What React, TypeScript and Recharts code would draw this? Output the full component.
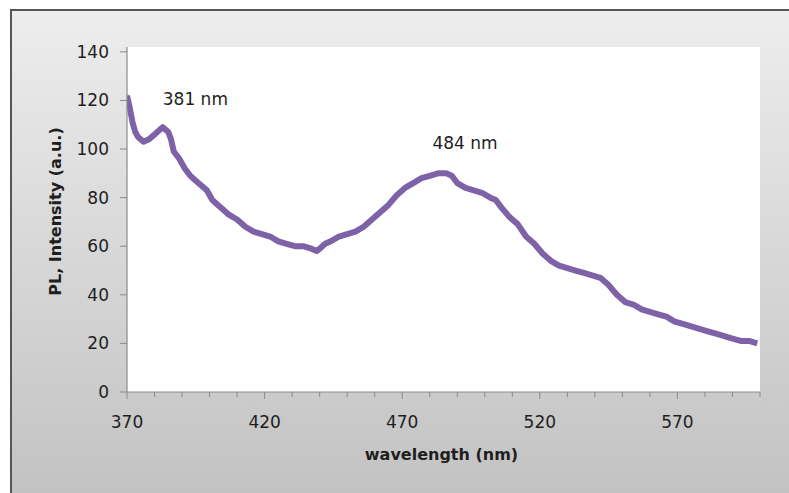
import React from 'react';
import { LineChart, Line, XAxis, YAxis, CartesianGrid, ReferenceDot, Label } from 'recharts';

const wavelengths = [
  370, 371, 372, 373, 374, 376, 378, 380, 382, 383, 385, 386, 387, 389, 391, 393, 395, 397, 399,
  401, 403, 405, 407, 410, 413, 416, 419, 422, 425, 428, 431, 434, 437, 439, 440, 442, 444, 447,
  450, 453, 456, 459, 462, 465, 468, 471, 474, 477, 480, 483, 486, 488, 490, 493, 496, 499, 502,
  504, 506, 509, 512, 515, 518, 521, 524, 527, 530, 533, 536, 539, 542, 545, 548, 551, 554, 557,
  560, 563, 566, 569, 572, 575, 578, 581, 584, 587, 590, 593, 596, 599,
];
const intensity = [
  122, 117, 111, 107, 105, 103, 104, 106, 108, 109, 107, 104, 99, 96, 92, 89, 87, 85, 83,
  79, 77, 75, 73, 71, 68, 66, 65, 64, 62, 61, 60, 60, 59, 58, 59, 61, 62, 64,
  65, 66, 68, 71, 74, 77, 81, 84, 86, 88, 89, 90, 90, 89, 86, 84, 83, 82, 80,
  79, 76, 72, 69, 64, 61, 57, 54, 52, 51, 50, 49, 48, 47, 44, 40, 37, 36, 34,
  33, 32, 31, 29, 28, 27, 26, 25, 24, 23, 22, 21, 21, 20,
];
const xTicks = [370, 380, 390, 400, 410, 420, 430, 440, 450, 460, 470, 480, 490, 500, 510, 520, 530, 540, 550, 560, 570, 580, 590, 600];
const xTickLabels = [370, 420, 470, 520, 570];
const yTicks = [0, 20, 40, 60, 80, 100, 120, 140];
const peakLabels = ['381 nm', '484 nm'];
const peakAnchorX = [383, 481];
const peakAnchorY = [120.4, 102.4];

const data = wavelengths.map((w, i) => ({ w, v: intensity[i] }));

const FONT = 'DejaVu Sans, Verdana, sans-serif';
const AXIS_COLOR = '#8a8a8a';
const TEXT_COLOR = '#1e1e1e';
const TICK_SIZE = 6;
const TICK_MARGIN = 18;

const XTick = (props: any) => {
  const { x, y, payload } = props;
  const isMajor = xTickLabels.includes(payload.value);
  const axisY = y - TICK_SIZE - TICK_MARGIN;
  return (
    <g>
      <line x1={x} x2={x} y1={axisY} y2={axisY + (isMajor ? 7 : 5)} stroke={AXIS_COLOR} strokeWidth={1} />
      {isMajor && (
        <text x={x} y={y} dy="0.71em" textAnchor="middle" fill={TEXT_COLOR} fontSize={17} fontFamily={FONT}>
          {payload.value}
        </text>
      )}
    </g>
  );
};

const peakLabel = (text: string) => (props: any) => {
  const vb = props.viewBox || {};
  const x = vb.x ?? props.x;
  const y = vb.y ?? props.y;
  return (
    <text x={x} y={y} textAnchor="start" dominantBaseline="central" fill={TEXT_COLOR} fontSize={17} fontFamily={FONT}>
      {text}
    </text>
  );
};

const YTitle = (props: any) => {
  const vb = props.viewBox;
  const cx = vb.x + 55;
  const cy = vb.y + vb.height / 2 - 8;
  return (
    <text
      x={cx}
      y={cy}
      transform={`rotate(-90 ${cx} ${cy})`}
      textAnchor="middle"
      dominantBaseline="central"
      fontWeight="bold"
      fontSize={16}
      fontFamily={FONT}
      fill={TEXT_COLOR}
    >
      PL, Intensity (a.u.)
    </text>
  );
};

const XTitle = (props: any) => {
  const vb = props.viewBox;
  const cx = vb.x + vb.width / 2 - 2;
  const by = vb.y + 68;
  return (
    <text x={cx} y={by} textAnchor="middle" fontWeight="bold" fontSize={16} fontFamily={FONT} fill={TEXT_COLOR}>
      wavelength (nm)
    </text>
  );
};

export default function App() {
  return (
    <div style={{ position: 'absolute', left: 0, top: 0, width: 789, height: 493, overflow: 'hidden', background: '#ffffff' }}>
      <div
        style={{
          position: 'absolute',
          left: 10,
          top: 9,
          width: 800,
          height: 500,
          borderTop: '2px solid #555',
          borderLeft: '2px solid #555',
          background: 'linear-gradient(#ededed, #c1c1c1)',
          boxSizing: 'border-box',
        }}
      />
      <div style={{ position: 'absolute', left: 0, top: 0 }}>
        <LineChart width={789} height={493} data={data} margin={{ top: 47, right: 29, left: 0, bottom: 30 }}>
          <CartesianGrid horizontal={false} vertical={false} fill="#ffffff" stroke="none" />
          <XAxis
            dataKey="w"
            type="number"
            domain={[370, 600]}
            ticks={xTicks}
            interval={0}
            height={71}
            tickSize={TICK_SIZE}
            tickMargin={TICK_MARGIN}
            tickLine={false}
            axisLine={{ stroke: AXIS_COLOR, strokeWidth: 1.2 }}
            tick={<XTick />}
            allowDataOverflow
          >
            <Label content={XTitle} />
          </XAxis>
          <YAxis
            type="number"
            domain={[0, 142]}
            ticks={yTicks}
            interval={0}
            width={127}
            tickSize={7}
            tickMargin={11}
            tickLine={{ stroke: AXIS_COLOR }}
            axisLine={{ stroke: AXIS_COLOR, strokeWidth: 1.2 }}
            tick={{ fill: TEXT_COLOR, fontSize: 17, fontFamily: FONT }}
            allowDataOverflow
          >
            <Label content={YTitle} />
          </YAxis>
          <Line
            type="linear"
            dataKey="v"
            stroke="#7e62a7"
            strokeWidth={6}
            strokeLinejoin="round"
            dot={false}
            activeDot={false}
            isAnimationActive={false}
          />
          {peakLabels.map((t, i) => (
            <ReferenceDot
              key={t}
              x={peakAnchorX[i]}
              y={peakAnchorY[i]}
              r={0}
              fill="none"
              stroke="none"
              label={peakLabel(t)}
            />
          ))}
        </LineChart>
      </div>
    </div>
  );
}
